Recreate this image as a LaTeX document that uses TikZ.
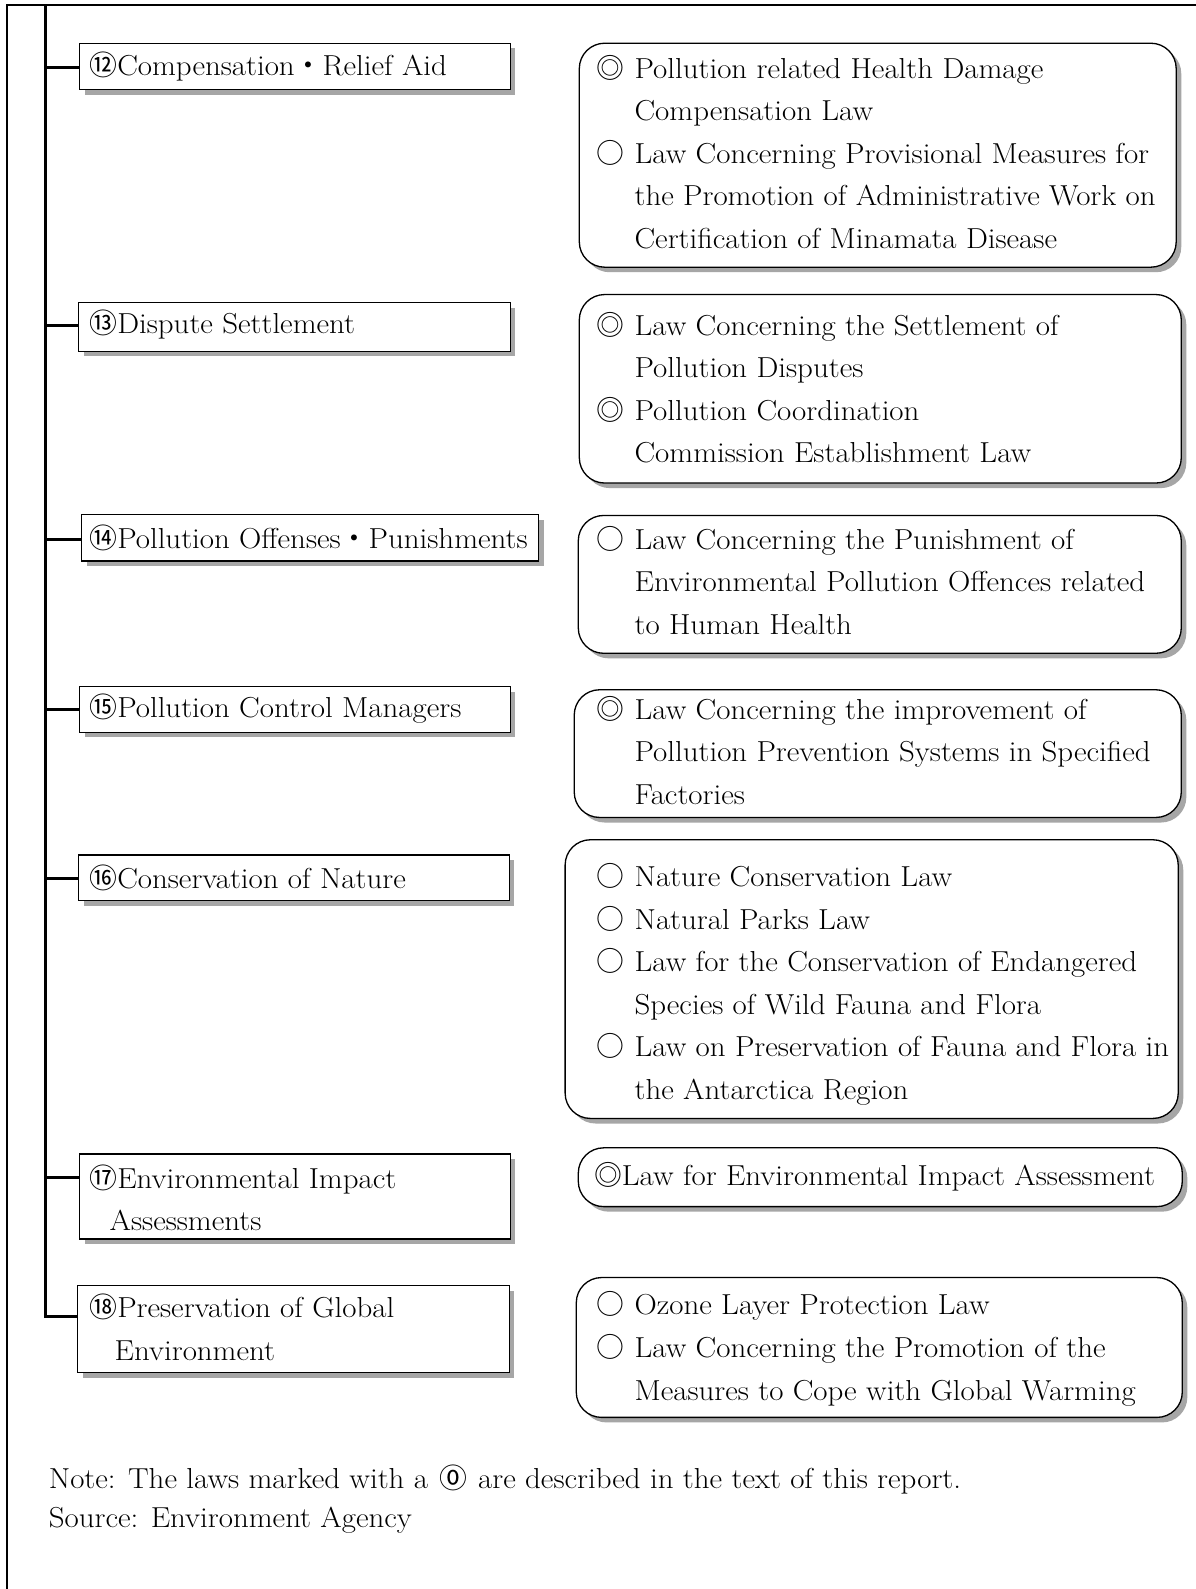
\documentclass[tikz,border=0pt]{standalone}
\usepackage{fontspec}
\setmainfont{Latin Modern Roman}[FakeStretch=1.07]
\newfontfamily\cjk{Noto Sans CJK JP}
\usetikzlibrary{shadows}
\newcommand\mainsz{\fontsize{28.5pt}{42pt}\selectfont}
\newcommand\lawbul[1]{\makebox[38pt][l]{\cjk\fontsize{27.5pt}{42pt}\selectfont #1}}
\newcommand\indt{\hspace*{38pt}}
\newcommand\cjkg[1]{{\cjk\fontsize{27.5pt}{42pt}\selectfont #1}}
\tikzset{
  frame/.style={line width=1.5pt},
  trunk/.style={line width=3pt},
  lbox/.style={draw, line width=1.3pt, fill=white, rectangle, anchor=north west, inner sep=0pt,
    drop shadow={shadow xshift=5pt, shadow yshift=-5pt, fill=black!35, opacity=1}},
  rbox/.style={lbox, rounded corners=25pt},
  txt/.style={anchor=west, align=left, inner sep=0pt, font=\mainsz},
}
\begin{document}
\begin{tikzpicture}[x=1pt,y=-1pt]
\useasboundingbox (0,0) rectangle (1180,1568);
\fill[white] (0,0) rectangle (1180,1568);
% frame
\draw[frame] (7,1568) -- (7,5) -- (1180,5);

% left boxes
\node[lbox, minimum width=425, minimum height=46] (b12) at (78,42) {};
\node[lbox, minimum width=426, minimum height=48] (b13) at (77,298) {};
\node[lbox, minimum width=451, minimum height=46] (b14) at (80,507) {};
\node[lbox, minimum width=425, minimum height=45] (b15) at (78,677) {};
\node[lbox, minimum width=425, minimum height=45] (b16) at (77,843) {};
\node[lbox, minimum width=425, minimum height=84] (b17) at (78,1138) {};
\node[lbox, minimum width=426, minimum height=86] (b18) at (76,1268) {};

\node[txt] (l12) at (88,66) {\cjkg{⑫}Compensation\cjkg{・}Relief Aid};
\node[txt] (l13) at (88,320) {\cjkg{⑬}Dispute Settlement};
\node[txt] (l14) at (88,531) {\cjkg{⑭}Pollution Offenses\cjkg{・}Punishments};
\node[txt] (l15) at (88,699) {\cjkg{⑮}Pollution Control Managers};
\node[txt] (l16) at (88,866) {\cjkg{⑯}Conservation of Nature};
\node[txt] (l17) at (88,1182) {\cjkg{⑰}Environmental Impact\\\hspace*{20pt}Assessments};
\node[txt] (l18) at (88,1310) {\cjkg{⑱}Preservation of Global\\\hspace*{25pt}Environment};

% trunk and branches
\coordinate (top) at (45,6);
\coordinate (t12) at (45,67);
\coordinate (t13) at (45,321);
\coordinate (t14) at (45,532);
\coordinate (t15) at (45,700);
\coordinate (t16) at (45,867);
\coordinate (t17) at (45,1162);
\coordinate (t18) at (45,1299);
\draw[trunk] (top) -- (t18) -- (t18 -| b18.west);
\draw[trunk] (t12) -- (t12 -| b12.west);
\draw[trunk] (t13) -- (t13 -| b13.west);
\draw[trunk] (t14) -- (t14 -| b14.west);
\draw[trunk] (t15) -- (t15 -| b15.west);
\draw[trunk] (t16) -- (t16 -| b16.west);
\draw[trunk] (t17) -- (t17 -| b17.west);

% right boxes
\node[rbox, minimum width=589, minimum height=221] (rA) at (571,42) {};
\node[rbox, minimum width=594, minimum height=186] (rB) at (571,290) {};
\node[rbox, minimum width=595, minimum height=136] (rC) at (570,508) {};
\node[rbox, minimum width=599, minimum height=126] (rD) at (566,680) {};
\node[rbox, minimum width=605, minimum height=275] (rE) at (557,828) {};
\node[rbox, minimum width=596, minimum height=58] (rF) at (570,1132) {};
\node[rbox, minimum width=598, minimum height=138] (rG) at (568,1260) {};

\node[txt] (tA) at (588,150) {\lawbul{◎}Pollution related Health Damage\\
  \indt Compensation Law\\
  \lawbul{○}Law Concerning Provisional Measures for\\
  \indt the Promotion of Administrative Work on\\
  \indt Certification of Minamata Disease};
\node[txt] (tB) at (588,382.5) {\lawbul{◎}Law Concerning the Settlement of\\
  \indt Pollution Disputes\\
  \lawbul{◎}Pollution Coordination\\
  \indt Commission Establishment Law};
\node[txt] (tC) at (588,572.5) {\lawbul{○}Law Concerning the Punishment of\\
  \indt Environmental Pollution Offences related\\
  \indt to Human Health};
\node[txt] (tD) at (588,740.5) {\lawbul{◎}Law Concerning the improvement of\\
  \indt Pollution Prevention Systems in Specified\\
  \indt Factories};
\node[txt] (tE) at (588,971.5) {\lawbul{○}Nature Conservation Law\\
  \lawbul{○}Natural Parks Law\\
  \lawbul{○}Law for the Conservation of Endangered\\
  \indt Species of Wild Fauna and Flora\\
  \lawbul{○}Law on Preservation of Fauna and Flora in\\
  \indt the Antarctica Region};
\node[txt] (tF) at (586,1161) {\cjkg{◎}Law for Environmental Impact Assessment};
\node[txt] (tG) at (588,1331) {\lawbul{○}Ozone Layer Protection Law\\
  \lawbul{○}Law Concerning the Promotion of the\\
  \indt Measures to Cope with Global Warming};

% note
\node[txt] (note) at (48,1460) {Note: The laws marked with a\hspace{11pt}\cjkg{⓪}\hspace{11pt}are described in the text of this report.};
\node[txt] (src) at (48,1500) {Source: Environment Agency};
\end{tikzpicture}
\end{document}
